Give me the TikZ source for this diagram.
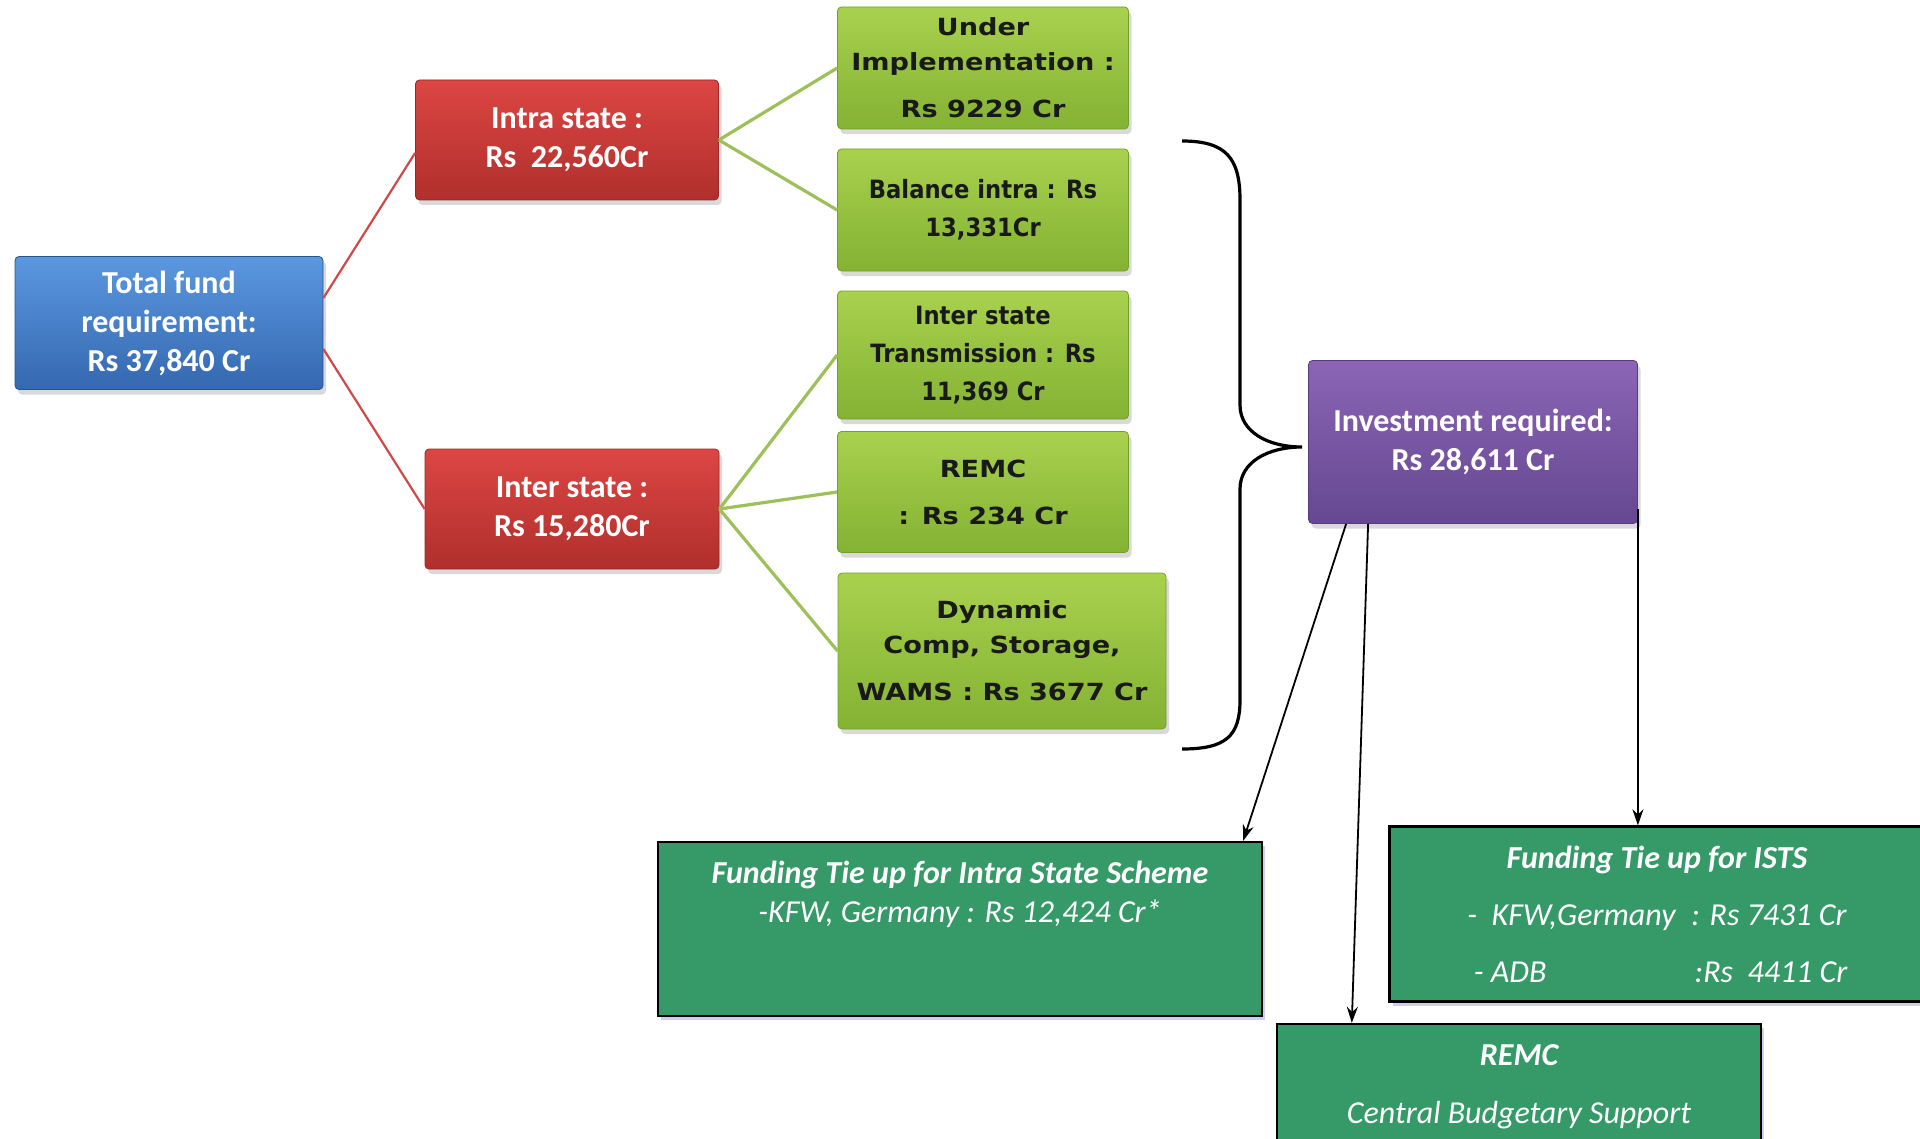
\documentclass[tikz,border=0pt]{standalone}
\usepackage{fontspec}
\setmainfont{Carlito}
\newfontfamily\verdwide[FakeStretch=1.15]{DejaVu Sans}
\newfontfamily\verdnarrow[FakeStretch=0.9]{DejaVu Sans}
\usepackage{xcolor}
\usepackage{tikz}
\usetikzlibrary{positioning,shadows,arrows.meta}
\definecolor{bluetop}{HTML}{5B98DF}
\definecolor{bluebot}{HTML}{3468B0}
\definecolor{redtop}{HTML}{DC4643}
\definecolor{redbot}{HTML}{B02F2C}
\definecolor{greentop}{HTML}{A8D14E}
\definecolor{greenbot}{HTML}{84B233}
\definecolor{greenedge}{HTML}{73A02B}
\definecolor{purpletop}{HTML}{8B64B6}
\definecolor{purplebot}{HTML}{654891}
\definecolor{tiegreen}{HTML}{359A68}
\definecolor{redlink}{HTML}{D0494A}
\definecolor{greenlink}{HTML}{9DC05A}
\newcommand\wideitem{\verdwide\bfseries\fontsize{11.8}{17.5}\selectfont}
\tikzstyle{mainbox} = [rectangle, rounded corners=2pt, text=white, align=center, inner sep=2pt, font=\bfseries\fontsize{16}{19.5}\selectfont, drop shadow={opacity=0.3, shadow xshift=1.5pt, shadow yshift=-2.5pt}]
\tikzstyle{fundbox} = [mainbox, top color=bluetop, bottom color=bluebot, draw=bluebot!80!black, minimum width=154pt, minimum height=66.5pt]
\tikzstyle{statebox} = [mainbox, top color=redtop, bottom color=redbot, draw=redbot!85!black, minimum width=151.5pt, minimum height=60pt]
\tikzstyle{investbox} = [mainbox, top color=purpletop, bottom color=purplebot, draw=purplebot!85!black, minimum width=164.5pt, minimum height=81.5pt]
\tikzstyle{itembox} = [mainbox, top color=greentop, bottom color=greenbot, draw=greenedge, text=black!90, font=\verdnarrow\bfseries\fontsize{12.6}{19}\selectfont, minimum width=145.5pt, minimum height=61pt]
\tikzstyle{tiebox} = [rectangle, fill=tiegreen, draw=black, line width=1.2pt, minimum height=87pt, drop shadow={fill=black!20!blue!25, opacity=0.8, shadow xshift=1.5pt, shadow yshift=-2pt}]
\tikzstyle{tietext} = [text=white, align=center, inner sep=0pt, font=\itshape\fontsize{16}{19.5}\selectfont]
\tikzstyle{redline} = [redlink, line width=1.1pt]
\tikzstyle{greenline} = [greenlink, line width=1.6pt]
\tikzstyle{brace} = [black, line width=1.6pt]
\tikzstyle{arrow} = [black, line width=0.9pt, -{Stealth[length=8pt,width=5.5pt]}]

\begin{document}
\begin{tikzpicture}[x=0.5pt, y=-0.5pt]
    \clip (0,0) rectangle (1920,1139);
    \node (total) [fundbox] at (169,323) {Total fund\\requirement:\\Rs 37,840 Cr};
    \node (intra) [statebox] at (567,140) {Intra state :\\Rs\ \ 22,560Cr};
    \node (inter) [statebox, minimum width=147pt] at (572,509) {Inter state :\\Rs 15,280Cr};
    \node (under) [itembox, font=\wideitem] at (983,68) {Under\\Implementation :\\[6pt]Rs 9229 Cr};
    \node (balance) [itembox] at (983,210) {Balance intra : Rs\\13,331Cr};
    \node (interTx) [itembox, minimum height=64pt] at (983,355) {Inter state\\Transmission : Rs\\11,369 Cr};
    \node (remc) [itembox, font=\wideitem, minimum height=60.5pt] at (983,492) {REMC\\[6pt]: Rs 234 Cr};
    \node (dynamic) [itembox, font=\wideitem, minimum width=164pt, minimum height=78pt] at (1002,651) {Dynamic\\Comp, Storage,\\[6pt]WAMS : Rs 3677 Cr};
    \node (invest) [investbox] at (1473,442) {Investment required:\\Rs 28,611 Cr};
    \node (tieIntra) [tiebox, minimum width=302pt] at (960,929) {};
    \node (tieISTS) [tiebox, minimum width=267.5pt, minimum height=87.5pt] at (1657,914) {};
    \node (tieREMC) [tiebox, minimum width=242pt, minimum height=78pt] at (1519,1102) {};
    \node (tieIntraText) [tietext, below=10pt of tieIntra.north] {\textbf{Funding Tie up for Intra State Scheme}\\-KFW, Germany : Rs 12,424 Cr*};
    \node (tieISTSText) [tietext, below=10pt of tieISTS.north] {\textbf{Funding Tie up for ISTS}\\[9pt]\makebox[112pt][l]{-\ \ KFW,Germany}: Rs 7431 Cr\\[9pt]\makebox[114pt][l]{\ - ADB}:Rs\ \ 4411 Cr};
    \node (tieREMCText) [tietext, below=10.5pt of tieREMC.north] {\textbf{REMC}\\[9.5pt]Central Budgetary Support};
    \draw [redline] ([yshift=12.5pt]total.east) -- ([yshift=-6.5pt]intra.west);
    \draw [redline] ([yshift=-13pt]total.east) -- (inter.west);
    \draw [greenline] (intra.east) -- (under.west);
    \draw [greenline] (intra.east) -- (balance.west);
    \draw [greenline] (inter.east) -- (interTx.west);
    \draw [greenline] (inter.east) -- (remc.west);
    \draw [greenline] (inter.east) -- (dynamic.west);
    \draw [brace] (1182,141) .. controls (1226,141) and (1240,158) .. (1240,200) -- (1240,405) .. controls (1240,432) and (1268,447) .. (1302,447) .. controls (1268,447) and (1240,462) .. (1240,489) -- (1240,700) .. controls (1240,736) and (1226,749) .. (1182,749);
    \draw [arrow] ([xshift=19pt]invest.south west) -- ([xshift=-10pt]tieIntra.north east);
    \draw [arrow] ([xshift=30pt]invest.south west) -- ([xshift=38pt]tieREMC.north west);
    \draw [arrow] ([yshift=7.5pt]invest.south east) -- (invest.south east |- tieISTS.north);
\end{tikzpicture}
\end{document}
